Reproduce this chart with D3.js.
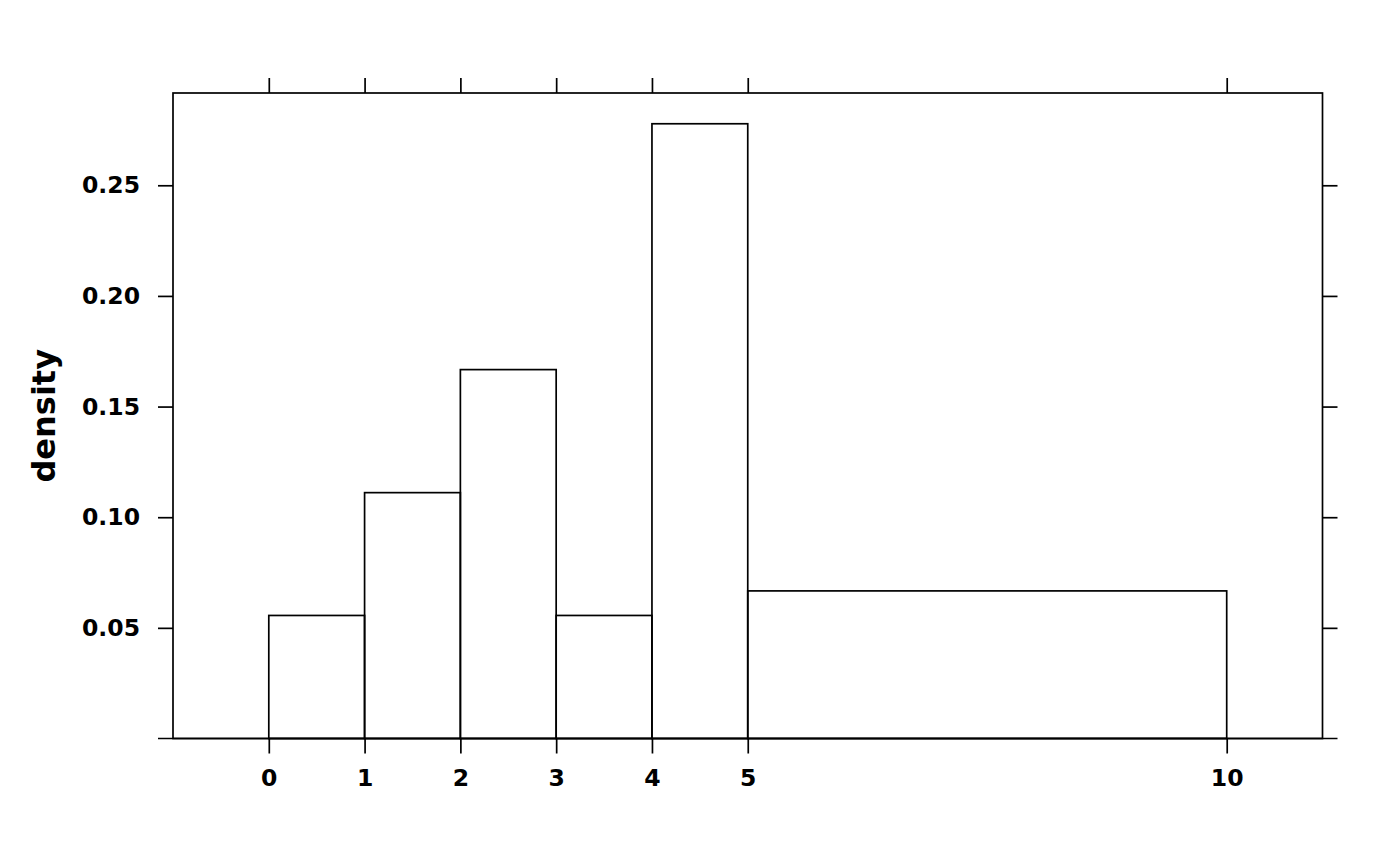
<!DOCTYPE html>
<html>
<head>
<meta charset="utf-8">
<script src="https://cdn.jsdelivr.net/npm/d3@7"></script>
<style>
  html, body { margin: 0; padding: 0; background: #fff; }
  svg { display: block; }
  text { font-family: "DejaVu Sans", sans-serif; font-weight: bold; fill: #000; }
</style>
</head>
<body>
<svg id="chart" width="1400" height="866"></svg>
<script>
// Histogram bins (breaks) and densities
const binStarts = [0, 1, 2, 3, 4, 5];
const binEnds   = [1, 2, 3, 4, 5, 10];
const densities = [0.0556, 0.1111, 0.1667, 0.0556, 0.2778, 0.0667];
const xTicks = [0, 1, 2, 3, 4, 5, 10];
const yTicks = [0.05, 0.10, 0.15, 0.20, 0.25];
const yLabel = "density";

(function () {
const svg = d3.select("#chart");
const pLeft = 173, pRight = 1322.5, pTop = 93, pBottom = 738.5;
const tickLen = 15;

const x = d3.scaleLinear().domain([-1, 11]).range([pLeft, pRight]);
const y = d3.scaleLinear().domain([0, 0.2917]).range([pBottom, pTop]);

const bins = binStarts.map((s, i) => ({ x0: s, x1: binEnds[i], d: densities[i] }));

// bars
svg.append("g").selectAll("rect").data(bins).join("rect")
  .attr("x", d => x(d.x0))
  .attr("y", d => y(d.d))
  .attr("width", d => x(d.x1) - x(d.x0))
  .attr("height", d => y(0) - y(d.d))
  .attr("fill", "none")
  .attr("stroke", "#000")
  .attr("stroke-width", 1.7);

// box
svg.append("rect")
  .attr("x", pLeft).attr("y", pTop)
  .attr("width", pRight - pLeft).attr("height", pBottom - pTop)
  .attr("fill", "none").attr("stroke", "#000").attr("stroke-width", 1.7);

// baseline extending beyond box
svg.append("line")
  .attr("x1", pLeft - tickLen).attr("x2", pRight + tickLen)
  .attr("y1", y(0)).attr("y2", y(0))
  .attr("stroke", "#000").attr("stroke-width", 1.7);

const fs = 23.5;

const gB = svg.append("g").attr("transform", `translate(0,${pBottom})`)
  .call(d3.axisBottom(x).tickValues(xTicks).tickSize(tickLen).tickPadding(16).tickFormat(d3.format("d")));
const gT = svg.append("g").attr("transform", `translate(0,${pTop})`)
  .call(d3.axisTop(x).tickValues(xTicks).tickSize(tickLen).tickFormat(""));
const gL = svg.append("g").attr("transform", `translate(${pLeft},0)`)
  .call(d3.axisLeft(y).tickValues(yTicks).tickSize(tickLen).tickPadding(18).tickFormat(d3.format(".2f")));
const gR = svg.append("g").attr("transform", `translate(${pRight},0)`)
  .call(d3.axisRight(y).tickValues(yTicks).tickSize(tickLen).tickFormat(""));

[gB, gT, gL, gR].forEach(g => {
  g.select(".domain").remove();
  g.selectAll(".tick line").attr("stroke", "#000").attr("stroke-width", 1.7);
  g.selectAll("text").attr("font-size", fs).attr("font-family", "DejaVu Sans").attr("font-weight", "bold").attr("fill", "#000");
});

svg.append("text")
  .attr("transform", `translate(55,${(pTop + pBottom) / 2}) rotate(-90)`)
  .attr("text-anchor", "middle")
  .attr("font-size", 32)
  .text(yLabel);
})();
</script>
</body>
</html>
